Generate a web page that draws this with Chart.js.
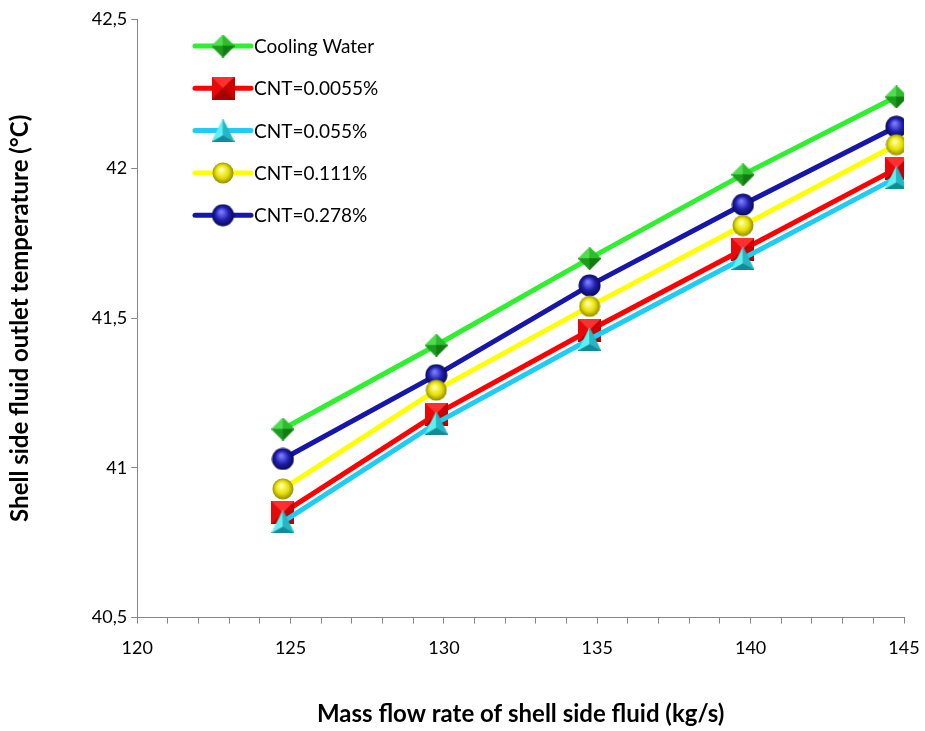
<!DOCTYPE html>
<html>
<head>
<meta charset="utf-8">
<script src="https://cdn.jsdelivr.net/npm/chart.js@4.4.1/dist/chart.umd.min.js"></script>
<style>
  html, body { margin: 0; padding: 0; background: #fff; }
  #wrap { width: 925px; height: 731px; }
</style>
</head>
<body>
<div id="wrap"><canvas id="chart" width="925" height="731"></canvas></div>
<script>
// mass flow rate (kg/s)
const flowRates = [124.75, 129.75, 134.75, 139.75, 144.75];
// shell side outlet temperatures (°C)
const coolingWater = [41.13, 41.41, 41.70, 41.98, 42.24];
const cnt00055 = [40.85, 41.18, 41.46, 41.73, 42.00];
const cnt0055 = [40.82, 41.15, 41.43, 41.70, 41.97];
const cnt0111 = [40.93, 41.26, 41.54, 41.81, 42.08];
const cnt0278 = [41.03, 41.31, 41.61, 41.88, 42.14];
const seriesLabels = ["Cooling Water", "CNT=0.0055%", "CNT=0.055%", "CNT=0.111%", "CNT=0.278%"];

const FONT = "Lato, 'Open Sans', sans-serif";
const AXIS_GRAY = "#868686";

//shaded marker sprites (they look 3D in the original)
function newSprite(w, h) {
    const c = document.createElement("canvas");
    c.width = w; c.height = h;
    return c;
}
function sphere(d, light, base, dark) {
    const c = newSprite(d, d);
    const g = c.getContext("2d");
    const grad = g.createRadialGradient(d * 0.42, d * 0.35, d * 0.04, d / 2, d / 2, d / 2);
    grad.addColorStop(0, light);
    grad.addColorStop(0.55, base);
    grad.addColorStop(1, dark);
    g.fillStyle = grad;
    g.beginPath();
    g.arc(d / 2, d / 2, d / 2 - 0.5, 0, Math.PI * 2);
    g.fill();
    return c;
}
function facets(w, h, polys) {
    const c = newSprite(w, h);
    const g = c.getContext("2d");
    polys.forEach(([color, pts]) => {
        g.fillStyle = color;
        g.beginPath();
        pts.forEach(([x, y], i) => (i ? g.lineTo(x, y) : g.moveTo(x, y)));
        g.closePath();
        g.fill();
        g.strokeStyle = color;
        g.lineWidth = 0.6;
        g.stroke();
    });
    return c;
}
function diamond(d) {
    const m = d / 2, top = [m, 0], r = [d, m], b = [m, d], l = [0, m], ctr = [m, m];
    return facets(d, d, [
        ["#4fdc4f", [top, l, ctr]],
        ["#2cbc2c", [top, r, ctr]],
        ["#1c9c1c", [l, b, ctr]],
        ["#117c11", [r, b, ctr]],
    ]);
}
function square(d) {
    const m = d / 2, tl = [0, 0], tr = [d, 0], br = [d, d], bl = [0, d], ctr = [m, m];
    return facets(d, d, [
        ["#ff3030", [tl, tr, ctr]],
        ["#e80808", [tl, bl, ctr]],
        ["#c80000", [tr, br, ctr]],
        ["#a80000", [bl, br, ctr]],
    ]);
}
function triangle(d) {
    const apex = [d / 2, 0], bl = [0, d], br = [d, d], ctr = [d / 2, d * 0.72];
    return facets(d, d, [
        ["#5ff0f0", [apex, bl, ctr]],
        ["#22b8c4", [apex, br, ctr]],
        ["#128c96", [bl, br, ctr]],
    ]);
}

const markers = [
    diamond(23),
    square(23),
    triangle(23),
    sphere(22, "#ffffa8", "#e8e000", "#8a8400"),
    sphere(23, "#7a7aff", "#1e1eae", "#08084a"),
];
const lineColors = ["#2ef02e", "#ff0000", "#1ecdf5", "#ffff00", "#1616aa"];
const seriesValues = [coolingWater, cnt00055, cnt0055, cnt0111, cnt0278];
// draw order: green on top, then cyan over red
const drawOrder = [0, 2, 1, 3, 4];

const datasets = seriesValues.map((vals, i) => ({
    label: seriesLabels[i],
    data: vals.map((v, j) => ({ x: flowRates[j], y: v })),
    borderColor: lineColors[i],
    backgroundColor: lineColors[i],
    borderWidth: 5,
    pointStyle: markers[i],
    pointRadius: 11,
    tension: 0,
    order: drawOrder[i],
}));

//legend drawn inside the plot, line sample with the marker in the middle
const insideLegend = {
    id: "insideLegend",
    afterDraw(chart) {
        const ctx = chart.ctx;
        const x0 = 195, lineLen = 56, y0 = 46, gap = 42.3;
        ctx.save();
        ctx.font = "19px " + FONT;
        ctx.textBaseline = "middle";
        ctx.fillStyle = "#000";
        chart.data.datasets.forEach((ds, i) => {
            const y = y0 + i * gap;
            ctx.strokeStyle = ds.borderColor;
            ctx.lineWidth = 5;
            ctx.lineCap = "round";
            ctx.beginPath();
            ctx.moveTo(x0, y);
            ctx.lineTo(x0 + lineLen, y);
            ctx.stroke();
            const img = ds.pointStyle;
            ctx.drawImage(img, x0 + lineLen / 2 - img.width / 2, y - img.height / 2);
            ctx.fillText(ds.label, x0 + lineLen + 3, y + 1);
        });
        ctx.restore();
    },
};

new Chart(document.getElementById("chart"), {
    type: "line",
    data: { datasets: datasets },
    plugins: [insideLegend],
    options: {
        responsive: false,
        animation: false,
        layout: { autoPadding: false, padding: { left: 6, right: 21, top: 19, bottom: 2 } },
        plugins: {
            legend: { display: false },
            tooltip: { enabled: false },
        },
        scales: {
            x: {
                type: "linear",
                min: 120,
                max: 145,
                // the last label fits in the outer padding, no extra room needed
                afterFit: (scale) => { scale.paddingRight = 0; },
                border: { color: AXIS_GRAY, width: 1 },
                grid: { drawOnChartArea: false, drawTicks: true, tickLength: 6, color: AXIS_GRAY },
                ticks: {
                    stepSize: 1,
                    autoSkip: false,
                    maxRotation: 0,
                    padding: 14,
                    color: "#000",
                    font: { family: FONT, size: 18 },
                    callback: (v) => (v % 5 === 0 ? v : ""),
                },
                title: {
                    display: true,
                    text: "Mass flow rate of shell side fluid (kg/s)",
                    color: "#000",
                    font: { family: FONT, size: 24, weight: "bold" },
                    padding: { top: 27, bottom: 0 },
                },
            },
            y: {
                min: 40.5,
                max: 42.5,
                border: { color: AXIS_GRAY, width: 1 },
                grid: { drawOnChartArea: false, drawTicks: true, tickLength: 6, color: AXIS_GRAY },
                ticks: {
                    stepSize: 0.5,
                    padding: 4,
                    color: "#000",
                    font: { family: FONT, size: 18 },
                    callback: (v) => String(v).replace(".", ","),
                },
                title: {
                    display: true,
                    text: "Shell side fluid outlet temperature (°C)",
                    color: "#000",
                    font: { family: FONT, size: 24, weight: "bold" },
                    padding: { top: 0, bottom: 53 },
                },
            },
        },
    },
});
</script>
</body>
</html>
